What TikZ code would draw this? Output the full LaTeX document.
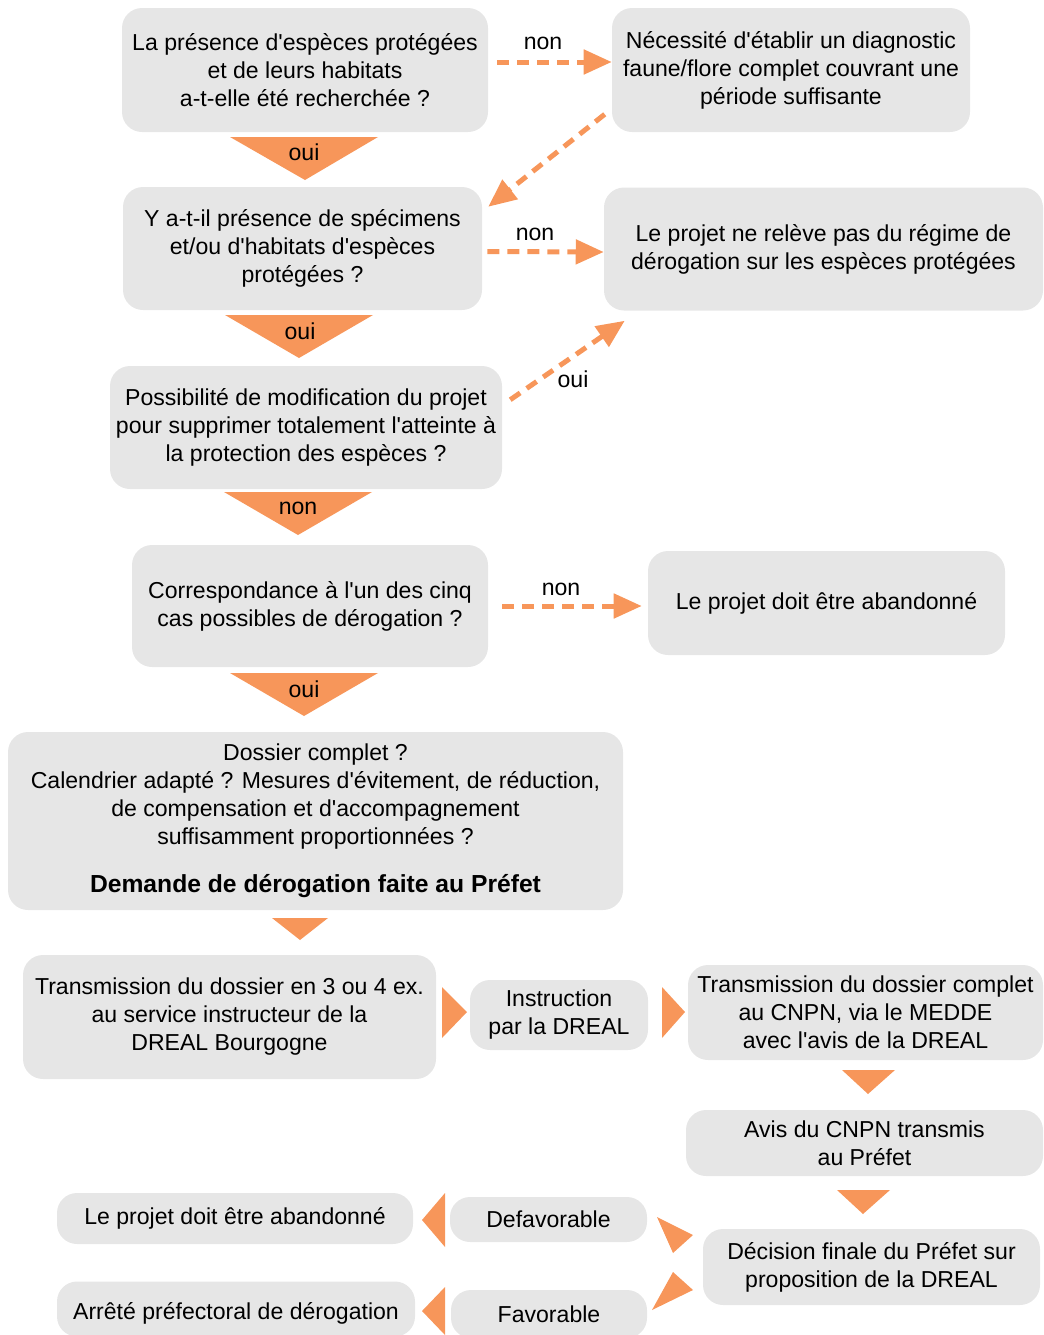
\documentclass[tikz,border=0pt]{standalone}
\usepackage{fontspec}
\setmainfont{Liberation Sans}[Ligatures=TeXOff]
\usetikzlibrary{arrows.meta,calc}
\definecolor{boxgray}{RGB}{230,230,230}
\definecolor{orng}{RGB}{247,150,90}
\begin{document}
\begin{tikzpicture}[x=0.75pt,y=-0.75pt,
  box/.style={fill=boxgray, rounded corners=15pt, align=center, inner sep=0pt, font=\fontsize{17.3}{21}\selectfont},
  dasharr/.style={orng, line width=3.75pt, dash pattern=on 9pt off 6pt, -{Triangle[length=21pt,width=18pt]}},
  lbl/.style={font=\fontsize{17.3}{21}\selectfont, inner sep=0pt},
  chev/.style={fill=orng, draw=none}
]
\useasboundingbox (0,0) rectangle (1043,1335);

% boxes
\node[box, minimum width=0.75pt*366, minimum height=0.75pt*124] (b1) at (305,70) {La présence d'espèces protégées\\et de leurs habitats\\a-t-elle été recherchée ?};
\node[box, minimum width=0.75pt*358, minimum height=0.75pt*124] (b2) at (791,70) {Nécessité d'établir un diagnostic\\faune/flore complet couvrant une\\période suffisante};
\node[box, minimum width=0.75pt*359, minimum height=0.75pt*123] (b3) at (302.5,248.5) {Y a-t-il présence de spécimens\\et/ou d'habitats d'espèces\\protégées ?};
\node[box, minimum width=0.75pt*439, minimum height=0.75pt*123] (b4) at (823.5,249) {Le projet ne relève pas du régime de\\dérogation sur les espèces protégées};
\node[box, minimum width=0.75pt*392, minimum height=0.75pt*123] (b5) at (306,427.5) {Possibilité de modification du projet\\pour supprimer totalement l'atteinte à\\la protection des espèces ?};
\node[box, minimum width=0.75pt*356, minimum height=0.75pt*122] (b6) at (310,606) {Correspondance à l'un des cinq\\cas possibles de dérogation ?};
\node[box, minimum width=0.75pt*357, minimum height=0.75pt*104] (b7) at (826.5,603) {Le projet doit être abandonné};
\node[box, minimum width=0.75pt*615, minimum height=0.75pt*178] (b8) at (315.5,821) {Dossier complet ?\\Calendrier adapté ? Mesures d'évitement, de réduction,\\de compensation et d'accompagnement\\suffisamment proportionnées ?\\[15pt]{\fontsize{18.5}{21}\selectfont\bfseries Demande de dérogation faite au Préfet}};
\node[box, minimum width=0.75pt*413, minimum height=0.75pt*124] (b9) at (229.5,1017) {Transmission du dossier en 3 ou 4 ex.\\au service instructeur de la\\DREAL Bourgogne};
\node[box, minimum width=0.75pt*178, minimum height=0.75pt*70] (b10) at (559,1015) {Instruction\\par la DREAL};
\node[box, minimum width=0.75pt*355, minimum height=0.75pt*95] (b11) at (865.5,1012.5) {Transmission du dossier complet\\au CNPN, via le MEDDE\\avec l'avis de la DREAL};
\node[box, minimum width=0.75pt*357, minimum height=0.75pt*66] (b12) at (864.5,1143) {Avis du CNPN transmis\\au Préfet};
\node[box, minimum width=0.75pt*337, minimum height=0.75pt*76] (b13) at (871.5,1267) {Décision finale du Préfet sur\\proposition de la DREAL};
\node[box, minimum width=0.75pt*197, minimum height=0.75pt*45] (b14) at (548.5,1219.5) {Defavorable};
\node[box, minimum width=0.75pt*196, minimum height=0.75pt*48] (b15) at (549,1314) {Favorable};
\node[box, minimum width=0.75pt*356, minimum height=0.75pt*51] (b16) at (235,1218.5) {Le projet doit être abandonné};
\node[box, minimum width=0.75pt*358, minimum height=0.75pt*55, text depth=0pt] (b17) at (236,1309) {\raisebox{-3pt}{Arrêté préfectoral de dérogation}};

% chevrons (solid orange triangles)
\fill[chev] (230,137) -- (378,137) -- (305,180) -- cycle;
\node[lbl] (l1) at (304,152) {oui};
\fill[chev] (225,315) -- (373,315) -- (299,358) -- cycle;
\node[lbl] (l2) at (300,331) {oui};
\fill[chev] (224,492) -- (372,492) -- (298,535) -- cycle;
\node[lbl] (l3) at (298,508) {non};
\fill[chev] (230,673) -- (378,673) -- (304,716) -- cycle;
\node[lbl] (l4) at (304,689) {oui};
\fill[chev] (272,918) -- (328,918) -- (300,940) -- cycle;
\fill[chev] (442,987) -- (467,1012) -- (442,1038) -- cycle;
\fill[chev] (662,987) -- (685,1012) -- (662,1038) -- cycle;
\fill[chev] (842,1070) -- (895,1070) -- (868,1094) -- cycle;
\fill[chev] (837,1190) -- (890,1190) -- (863,1214) -- cycle;
\fill[chev] (445,1193) -- (422,1220) -- (445,1247) -- cycle;
\fill[chev] (445,1287) -- (422,1311) -- (445,1335) -- cycle;
\fill[chev] (657,1217) -- (693,1235) -- (673,1253) -- cycle;
\fill[chev] (673,1272) -- (693,1290) -- (652,1310) -- cycle;

% dashed connectors
\draw[dasharr] ($(b1.east)+(9,-8)$) -- ($(b2.west)+(0,-8)$);
\node[lbl] (n1) at (543,43) {non};
\draw[dasharr] ($(b2.south west)+(-7,-18)$) -- ($(b3.north east)+(6,20)$);
\draw[dasharr] ($(b3.east)+(5,3)$) -- ($(b4.west)+(0,3)$);
\node[lbl] (n2) at (535,234) {non};
\draw[dasharr] ($(b5.north east)+(8,34)$) -- ($(b4.south west)+(21,10)$);
\node[lbl] (n3) at (573,379) {oui};
\draw[dasharr] ($(b6.east)+(14,0)$) -- ($(b7.west)+(-6,3)$);
\node[lbl] (n4) at (561,589) {non};
\end{tikzpicture}
\end{document}
